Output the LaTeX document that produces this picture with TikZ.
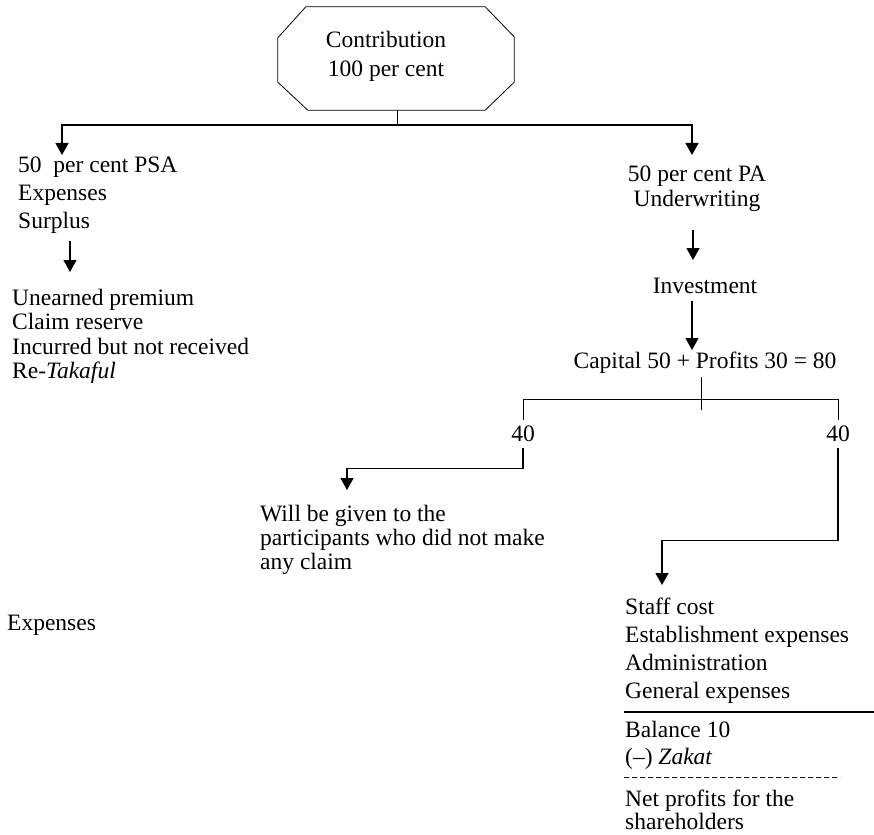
\documentclass[tikz,border=0pt]{standalone}
\usepackage{fontspec}
\setmainfont{Liberation Serif}
\usetikzlibrary{arrows.meta}
\tikzset{
  txt/.style={inner sep=0pt, anchor=base west, align=left, font=\fontsize{23.5pt}{28pt}\selectfont},
  ctxt/.style={txt, anchor=base, align=center},
  link/.style={line width=0.8pt},
  flow/.style={line width=1.2pt, -{Triangle[width=13pt,length=12pt]}},
  octbox/.style={minimum width=236pt, minimum height=103pt, inner sep=0pt},
}

\begin{document}
\begin{tikzpicture}[x=1pt,y=-1pt]
                \useasboundingbox (0,0) rectangle (874,834);

                % top box (multi-line nodes sit on their last baseline)
                \node[octbox] (octa) at (396,58.5) {};
                \draw[link] ([xshift=28pt]octa.north west) -- ([xshift=-29pt]octa.north east)
                    -- ([yshift=-30pt]octa.north east) -- ([yshift=28pt]octa.south east)
                    -- ([xshift=-29pt]octa.south east) -- ([xshift=30pt]octa.south west)
                    -- ([yshift=28pt]octa.south west) -- ([yshift=-31pt]octa.north west) -- cycle;
                \node[ctxt, font=\fontsize{23.5pt}{29pt}\selectfont] (contrib) at (386,77) {Contribution\\100 per cent};

                % left branch
                \node[txt, font=\fontsize{23.5pt}{27.5pt}\selectfont] (psa) at (18,228) {50~~per cent PSA\\Expenses\\Surplus};
                \node[txt, font=\fontsize{23.5pt}{24.5pt}\selectfont] (reserve) at (12,378.5) {Unearned premium\\Claim reserve\\Incurred but not received\\Re-\textit{Takaful}};
                \node[txt] (expenses) at (7,630) {Expenses};

                % right branch
                \node[ctxt, font=\fontsize{23.5pt}{25pt}\selectfont] (pa) at (697,207) {50 per cent PA\\Underwriting};
                \node[ctxt] (invest) at (705,293) {Investment};
                \node[ctxt] (capital) at (705,368) {Capital 50 + Profits 30 = 80};
                \node[txt, anchor=center, inner ysep=6pt] (fortyL) at (523,434) {40};
                \node[txt, anchor=center, inner ysep=6pt] (fortyR) at (838,434) {40};
                \node[txt, font=\fontsize{23.5pt}{24pt}\selectfont] (given) at (260,569) {Will be given to the\\participants who did not make\\any claim};
                \node[txt] (costs) at (625,698) {Staff cost\\Establishment expenses\\Administration\\General expenses};
                \node[txt, font=\fontsize{23.5pt}{27pt}\selectfont] (balance) at (625,764) {Balance 10\\(--) \textit{Zakat}};
                \node[txt, font=\fontsize{23.5pt}{21pt}\selectfont] (net) at (625,829) {Net profits for the\\shareholders};

                \coordinate (split) at (397,125);
                \coordinate (psaIn) at (62,155);
                \coordinate (paIn) at (692,155);
                \coordinate (psaOut) at (70,241);
                \coordinate (reserveIn) at (70,272);
                \coordinate (paOut) at (693,230);
                \coordinate (investIn) at (693,260);
                \coordinate (investOut) at (692,301);
                \coordinate (capitalIn) at (692,350);
                \coordinate (tick) at (701,377);
                \coordinate (barL) at (523,399);
                \coordinate (barR) at (838,399);
                \coordinate (givenIn) at (347,490);
                \coordinate (costsIn) at (662,585);

                \draw[link] (octa.south -| split) -- (split);
                \draw[flow] (split) -| (psaIn);
                \draw[flow] (split) -| (paIn);
                \draw[flow] (psaOut) -- (reserveIn);
                \draw[flow] (paOut) -- (investIn);
                \draw[flow] (investOut) -- (capitalIn);
                \draw[link] (tick) -- ++(0,33);
                \draw[link] (fortyL.north) -- (barL) -- (barR) -- (fortyR.north);
                \draw[flow] (fortyL.south) -- ++(0,20) -| (givenIn);
                \draw[flow] (fortyR.south) -- ++(0,92) -| (costsIn);

                % totals
                \draw[line width=1.2pt] (624,712) -- (874,712);
                \draw[link, dash pattern=on 5pt off 3pt] (624,777) -- (840,777);

            \end{tikzpicture}
\end{document}
